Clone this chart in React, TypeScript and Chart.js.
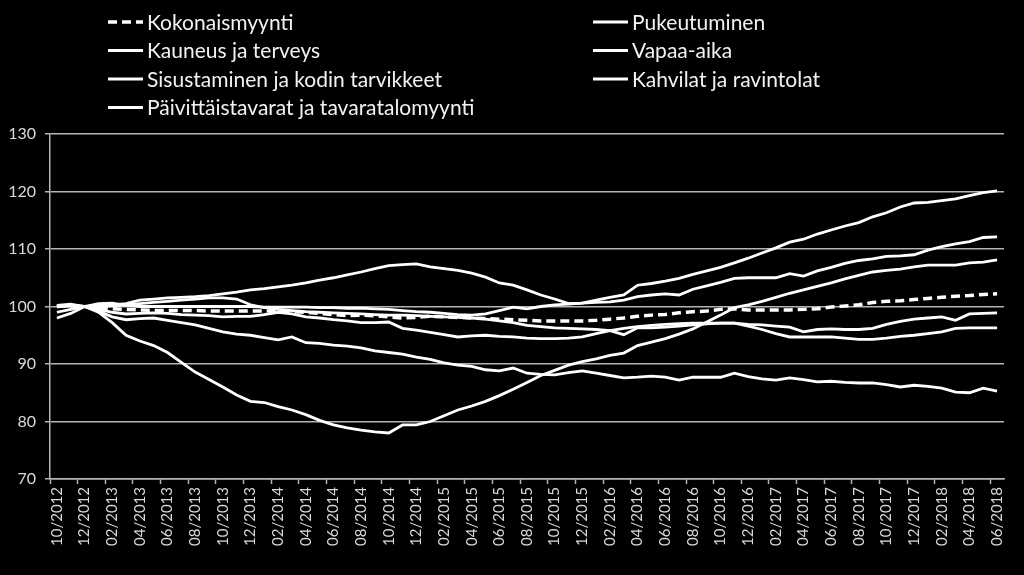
import React, { useEffect, useRef } from 'react';
import { Chart, registerables } from 'chart.js';

Chart.register(...registerables);

const months = [
  '10/2012', '11/2012', '12/2012',
  '01/2013', '02/2013', '03/2013', '04/2013', '05/2013', '06/2013', '07/2013', '08/2013', '09/2013', '10/2013', '11/2013', '12/2013',
  '01/2014', '02/2014', '03/2014', '04/2014', '05/2014', '06/2014', '07/2014', '08/2014', '09/2014', '10/2014', '11/2014', '12/2014',
  '01/2015', '02/2015', '03/2015', '04/2015', '05/2015', '06/2015', '07/2015', '08/2015', '09/2015', '10/2015', '11/2015', '12/2015',
  '01/2016', '02/2016', '03/2016', '04/2016', '05/2016', '06/2016', '07/2016', '08/2016', '09/2016', '10/2016', '11/2016', '12/2016',
  '01/2017', '02/2017', '03/2017', '04/2017', '05/2017', '06/2017', '07/2017', '08/2017', '09/2017', '10/2017', '11/2017', '12/2017',
  '01/2018', '02/2018', '03/2018', '04/2018', '05/2018', '06/2018',
];

const kokonaismyynti = [
  100.0, 100.1, 100.0,
  99.8, 99.6, 99.5, 99.4, 99.3, 99.3, 99.3, 99.3, 99.2, 99.2, 99.2, 99.2,
  99.2, 99.2, 99.1, 99.0, 98.8, 98.6, 98.4, 98.5, 98.4, 98.2, 98.0, 98.1,
  98.3, 98.2, 98.1, 98.0, 97.9, 97.8, 97.7, 97.6, 97.5, 97.5, 97.5, 97.5,
  97.6, 97.8, 98.0, 98.3, 98.5, 98.6, 98.9, 99.1, 99.2, 99.5, 99.6, 99.4,
  99.4, 99.4, 99.4, 99.5, 99.6, 99.9, 100.1, 100.3, 100.7, 100.9, 101.0, 101.2,
  101.4, 101.6, 101.8, 101.9, 102.1, 102.2,
];

const pukeutuminen = [
  100.2, 100.1, 100.0,
  99.2, 98.2, 97.7, 97.9, 98.0, 97.6, 97.2, 96.8, 96.2, 95.6, 95.2, 95.0,
  94.6, 94.2, 94.7, 93.7, 93.6, 93.3, 93.1, 92.8, 92.3, 92.0, 91.7, 91.2,
  90.8, 90.2, 89.8, 89.6, 89.0, 88.8, 89.3, 88.4, 88.2, 88.1, 88.5, 88.8,
  88.4, 88.0, 87.6, 87.7, 87.9, 87.7, 87.2, 87.7, 87.7, 87.7, 88.4, 87.8,
  87.4, 87.2, 87.6, 87.3, 86.9, 87.0, 86.8, 86.7, 86.7, 86.4, 86.0, 86.3,
  86.1, 85.8, 85.1, 85.0, 85.8, 85.3,
];

const kauneusJaTerveys = [
  98.0, 98.8, 100.0,
  100.2, 100.3, 100.5, 101.1, 101.3, 101.5, 101.6, 101.7, 101.9, 102.2, 102.5, 102.9,
  103.1, 103.4, 103.7, 104.1, 104.6, 105.0, 105.5, 106.0, 106.6, 107.1, 107.3, 107.4,
  106.9, 106.6, 106.3, 105.8, 105.1, 104.1, 103.7, 102.9, 102.0, 101.3, 100.5, 100.6,
  101.1, 101.6, 102.0, 103.7, 104.0, 104.4, 104.9, 105.6, 106.2, 106.8, 107.6, 108.4,
  109.3, 110.2, 111.2, 111.7, 112.6, 113.3, 114.0, 114.6, 115.6, 116.3, 117.3, 118.0,
  118.1, 118.4, 118.7, 119.3, 119.8, 120.1,
];

const vapaaAika = [
  100.2, 100.4, 100.0,
  99.0, 97.2, 95.0, 94.0, 93.2, 92.0, 90.3, 88.6, 87.3, 86.0, 84.6, 83.5,
  83.3, 82.6, 82.0, 81.2, 80.2, 79.4, 78.9, 78.5, 78.2, 78.0, 79.4, 79.4,
  80.0, 81.0, 82.0, 82.7, 83.5, 84.5, 85.6, 86.8, 88.0, 88.9, 89.8, 90.4,
  90.9, 91.5, 91.9, 93.2, 93.8, 94.4, 95.2, 96.1, 97.3, 98.5, 99.8, 100.3,
  100.9, 101.6, 102.3, 102.9, 103.5, 104.1, 104.8, 105.4, 106.0, 106.3, 106.5, 106.9,
  107.2, 107.2, 107.2, 107.6, 107.7, 108.1,
];

const sisustaminen = [
  100.0, 100.2, 100.0,
  100.0, 100.1, 100.3, 100.5, 100.7, 100.9, 101.1, 101.3, 101.5, 101.5, 101.3, 100.3,
  99.8, 99.5, 99.3, 99.1, 99.0, 98.9, 98.8, 98.7, 98.6, 98.5, 98.5, 98.4,
  98.3, 98.2, 98.1, 98.0, 97.8, 97.5, 97.2, 96.7, 96.5, 96.3, 96.2, 96.1,
  96.0, 95.8, 95.1, 96.3, 96.3, 96.4, 96.6, 96.8, 97.0, 97.1, 97.1, 96.6,
  96.0, 95.3, 94.7, 94.7, 94.7, 94.7, 94.5, 94.3, 94.3, 94.5, 94.8, 95.0,
  95.3, 95.6, 96.2, 96.3, 96.3, 96.3,
];

const kahvilatJaRavintolat = [
  99.0, 99.5, 100.0,
  100.5, 100.6, 100.2, 100.0, 100.0, 100.0, 100.0, 100.0, 100.0, 100.0, 100.0, 100.0,
  99.9, 99.9, 99.9, 99.9, 99.8, 99.8, 99.7, 99.7, 99.6, 99.5, 99.3, 99.1,
  99.0, 98.8, 98.6, 98.5, 98.7, 99.3, 99.9, 99.6, 100.0, 100.3, 100.4, 100.6,
  100.7, 100.8, 101.1, 101.7, 102.0, 102.2, 102.0, 103.0, 103.6, 104.2, 104.9, 105.0,
  105.0, 105.0, 105.7, 105.3, 106.2, 106.8, 107.5, 108.0, 108.3, 108.7, 108.8, 109.0,
  109.8, 110.4, 110.9, 111.3, 112.0, 112.1,
];

const paivittaistavarat = [
  100.0, 100.1, 100.0,
  99.5, 99.0, 98.7, 98.8, 98.9, 98.8, 98.6, 98.5, 98.4, 98.2, 98.3, 98.3,
  98.6, 99.0, 98.7, 98.2, 98.0, 97.7, 97.5, 97.2, 97.2, 97.3, 96.2, 95.9,
  95.5, 95.1, 94.7, 94.9, 95.0, 94.8, 94.7, 94.5, 94.4, 94.4, 94.5, 94.7,
  95.3, 95.8, 96.2, 96.5, 96.7, 96.9, 97.0, 97.1, 97.1, 97.1, 97.1, 96.9,
  96.8, 96.6, 96.4, 95.6, 96.0, 96.1, 96.0, 96.0, 96.2, 96.9, 97.4, 97.8,
  98.0, 98.2, 97.6, 98.7, 98.8, 98.9,
];

const seriesLabels = [
  'Kokonaismyynti',
  'Pukeutuminen',
  'Kauneus ja terveys',
  'Vapaa-aika',
  'Sisustaminen ja kodin tarvikkeet',
  'Kahvilat ja ravintolat',
  'Päivittäistavarat ja tavaratalomyynti',
];

const yTicks = [70, 80, 90, 100, 110, 120, 130];

const FONT = 'Lato, "Open Sans", sans-serif';
const GRID = '#b4b4b4';
const TICK_TEXT = '#d9d9d9';
const LINE = '#ffffff';

const LEGEND_COL_X = [108, 593];
const LEGEND_ROW_Y = [22, 50.5, 79, 107.5];

const bgPlugin = {
  id: 'bg',
  beforeDraw(chart: any) {
    const c = chart.ctx;
    c.save();
    c.fillStyle = '#000';
    c.fillRect(0, 0, chart.width, chart.height);
    c.restore();
  },
};

const legendPlugin = {
  id: 'twoColLegend',
  afterDraw(chart: any) {
    const c = chart.ctx;
    c.save();
    c.font = `21px ${FONT}`;
    c.textBaseline = 'middle';
    c.textAlign = 'left';
    chart.data.datasets.forEach((ds: any, i: number) => {
      const col = i % 2;
      const row = Math.floor(i / 2);
      const x0 = LEGEND_COL_X[col];
      const y = LEGEND_ROW_Y[row];
      c.strokeStyle = ds.borderColor;
      c.lineWidth = ds.borderWidth;
      c.setLineDash(ds.borderDash || []);
      c.beginPath();
      c.moveTo(x0, y);
      c.lineTo(x0 + 35, y);
      c.stroke();
      c.setLineDash([]);
      c.fillStyle = '#f2f2f2';
      c.fillText(ds.label, x0 + 39, y + 1);
    });
    c.restore();
  },
};

export default function App() {
  const ref = useRef<HTMLCanvasElement>(null);

  useEffect(() => {
    document.body.style.margin = '0';
    document.body.style.background = '#000';
    const canvas = ref.current;
    if (!canvas) return;
    const values = [
      kokonaismyynti,
      pukeutuminen,
      kauneusJaTerveys,
      vapaaAika,
      sisustaminen,
      kahvilatJaRavintolat,
      paivittaistavarat,
    ];
    const datasets = values.map((data, i) => ({
      label: seriesLabels[i],
      data,
      borderColor: LINE,
      backgroundColor: LINE,
      borderWidth: i === 0 ? 3.5 : 2.8,
      borderDash: i === 0 ? [9, 5] : [],
      pointRadius: 0,
      fill: false,
      tension: 0,
      order: i === 0 ? 0 : 1,
    }));

    const chart = new Chart(canvas, {
      type: 'line',
      data: { labels: months, datasets },
      options: {
        responsive: false,
        animation: false,
        devicePixelRatio: 1,
        layout: { padding: { top: 134, right: 20, bottom: 0, left: 0 } },
        plugins: {
          legend: { display: false },
          tooltip: { enabled: false },
        },
        scales: {
          x: {
            type: 'category',
            offset: true,
            grid: {
              offset: true,
              drawOnChartArea: false,
              drawTicks: true,
              tickLength: 5,
              tickWidth: 1.5,
              tickColor: (ctx: any) => (ctx.index !== undefined && ctx.index % 2 === 0 ? GRID : 'rgba(0,0,0,0)'),
            },
            border: { color: GRID, width: 1.5 },
            ticks: {
              autoSkip: false,
              maxRotation: 90,
              minRotation: 90,
              padding: 3,
              color: TICK_TEXT,
              font: { family: FONT, size: 15 },
              callback: (_v: any, i: number) => (i % 2 === 0 ? months[i] : ''),
            },
            afterFit: (s: any) => {
              s.height = 96;
            },
          },
          y: {
            min: 70,
            max: 130,
            afterBuildTicks: (s: any) => {
              s.ticks = yTicks.map((v) => ({ value: v }));
            },
            ticks: {
              color: TICK_TEXT,
              padding: 9,
              font: { family: FONT, size: 16 },
            },
            grid: { color: GRID, lineWidth: 1.5, tickLength: 5, drawTicks: true },
            border: { color: GRID, width: 1.5 },
            afterFit: (s: any) => {
              s.width = 50;
            },
          },
        },
      },
      plugins: [bgPlugin, legendPlugin],
    } as any);

    return () => chart.destroy();
  }, []);

  return (
    <div style={{ width: 1024, height: 575, background: '#000', overflow: 'hidden' }}>
      <canvas ref={ref} width={1024} height={575} style={{ display: 'block' }} />
    </div>
  );
}
